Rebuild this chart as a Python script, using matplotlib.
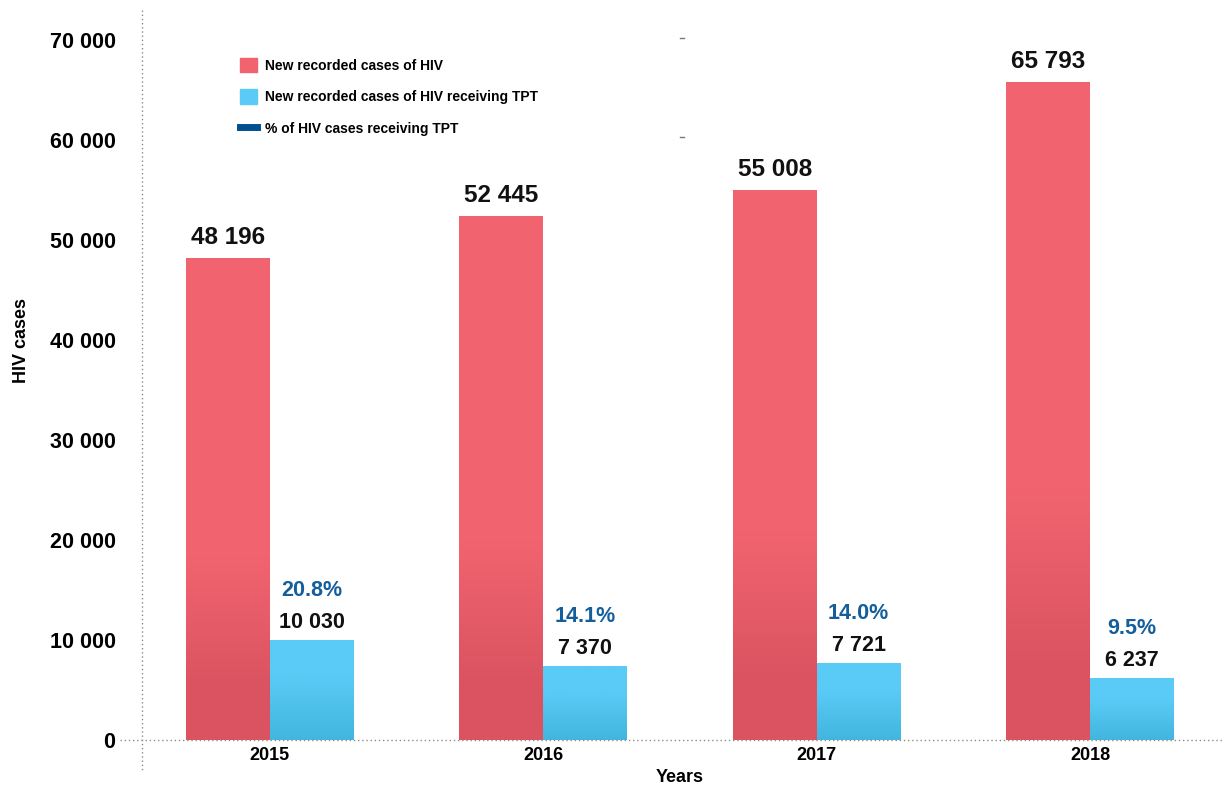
import numpy as np
import matplotlib
matplotlib.use("Agg")
import matplotlib.pyplot as plt
from matplotlib.patches import Patch
from matplotlib.lines import Line2D
from matplotlib.colors import to_rgb

plt.rcParams['font.family'] = ['Liberation Sans', 'DejaVu Sans']

years = ['2015', '2016', '2017', '2018']
hiv_cases = [48196, 52445, 55008, 65793]
tpt_cases = [10030, 7370, 7721, 6237]
tpt_pct = [20.8, 14.1, 14.0, 9.5]

red_top, red_bot = '#F1646F', '#DB5361'
blue_top, blue_bot = '#5ACBF6', '#42B6DF'
pct_color = '#135E9B'
line_color = '#00508F'

W, H = 1222, 787


def fmt(v):
    return f'{v:,}'.replace(',', ' ')


def shade(ax, bars, top, bot, lo, hi):
    # vertical gradient: darker towards the bottom of each bar
    c1, c2 = np.array(to_rgb(top)), np.array(to_rgb(bot))
    f = np.linspace(0, 1, 300)
    t = np.clip((f - lo) / (hi - lo), 0, 1)
    grad = (c2[None, :] + (c1 - c2)[None, :] * t[:, None])[:, None, :]
    for b in bars:
        x0, y0 = b.get_x(), b.get_y()
        w, h = b.get_width(), b.get_height()
        im = ax.imshow(grad, extent=[x0, x0 + w, y0, y0 + h], origin='lower',
                       aspect='auto', zorder=3, interpolation='bilinear')
        im.set_clip_path(b)


fig = plt.figure(figsize=(W / 100, H / 100), dpi=100)
ax = fig.add_axes([142 / W, 47 / H, 1 - 142 / W, 700 / H])

x = np.arange(len(years))
w = 0.307
b1 = ax.bar(x - w / 2, hiv_cases, w, color=red_top, zorder=2)
b2 = ax.bar(x + w / 2, tpt_cases, w, color=blue_top, zorder=2)
shade(ax, b1, red_top, red_bot, 0.11, 0.38)
shade(ax, b2, blue_top, blue_bot, 0.0, 0.65)

ax.set_xlim(-0.468, 3.483)
ax.set_ylim(0, 70000)

for i in range(len(years)):
    ax.text(x[i] - w / 2, hiv_cases[i] + 900, fmt(hiv_cases[i]), ha='center',
            va='bottom', fontsize=17.5, fontweight='bold', color='#111111')
    ax.text(x[i] + w / 2, tpt_cases[i] + 700, fmt(tpt_cases[i]), ha='center',
            va='bottom', fontsize=15.5, fontweight='bold', color='#111111')
    ax.text(x[i] + w / 2, tpt_cases[i] + 3900, f'{tpt_pct[i]:.1f}%', ha='center',
            va='bottom', fontsize=15.5, fontweight='bold', color=pct_color)

for s in ax.spines.values():
    s.set_visible(False)
ax.set_xticks(x)
ax.set_xticklabels(years, fontsize=13, fontweight='bold')
ax.set_yticks(range(0, 70001, 10000))
ax.set_yticklabels([fmt(v) for v in range(0, 70001, 10000)], fontsize=15.5, fontweight='bold')
ax.tick_params(axis='x', length=0, pad=5)
ax.tick_params(axis='y', length=0, pad=19)

fig.text(680 / W, 1 - 778 / H, 'Years', ha='center', va='center',
         fontsize=13, fontweight='bold')
fig.text(22 / W, 1 - 340 / H, 'HIV cases', ha='center', va='center',
         rotation=90, fontsize=13, fontweight='bold')

# dotted axis lines
fig.add_artist(Line2D([142 / W, 142 / W], [1 - 10 / H, 1 - 772 / H],
                      color='#8a8a8a', lw=1, ls=(0, (1, 2))))
fig.add_artist(Line2D([120 / W, 1], [1 - 740 / H, 1 - 740 / H],
                      color='#8a8a8a', lw=1, ls=(0, (1, 2))))
for yy in (38, 137):
    fig.add_artist(Line2D([680 / W, 684 / W], [1 - yy / H, 1 - yy / H],
                          color='#777777', lw=1))

handles = [Patch(color=red_top), Patch(color=blue_top),
           Line2D([0], [0], color=line_color, lw=5)]
labels = ['New recorded cases of HIV', 'New recorded cases of HIV receiving TPT',
          '% of HIV cases receiving TPT']
leg = fig.legend(handles, labels, loc='upper left', bbox_to_anchor=(227 / W, 1 - 45 / H),
                 frameon=False, prop={'weight': 'bold', 'size': 10},
                 handlelength=1.25, handleheight=1.25, labelspacing=1.2, handletextpad=0.6)

fig.savefig('out.png', dpi=100)
